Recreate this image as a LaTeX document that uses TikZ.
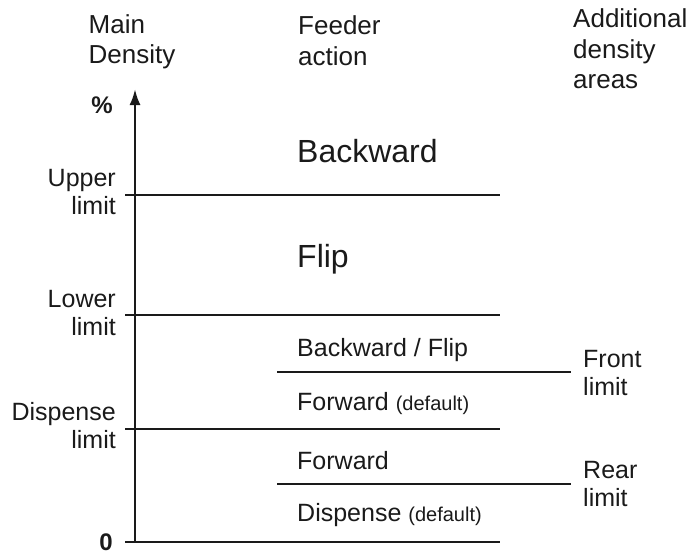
\documentclass[tikz,border=0pt]{standalone}
\usepackage{fontspec}
\setmainfont{Liberation Sans}
\usetikzlibrary{arrows.meta}
\definecolor{ink}{HTML}{1A1A1A}
\newcommand\dftsize{\fontsize{20}{24}\selectfont}
\begin{document}
\begin{tikzpicture}[x=1pt,y=-1pt,
  hdr/.style={inner sep=0pt,anchor=base west,align=left,text=ink,font=\fontsize{26}{30.5}\selectfont},
  lbl/.style={inner sep=0pt,anchor=base east,align=right,text=ink,font=\fontsize{25}{28}\selectfont},
  rlbl/.style={inner sep=0pt,anchor=base west,align=left,text=ink,font=\fontsize{25}{28}\selectfont},
  act/.style={inner sep=0pt,anchor=base west,text=ink,font=\fontsize{25}{28}\selectfont},
  bigact/.style={inner sep=0pt,anchor=base west,text=ink,font=\fontsize{32}{36}\selectfont},
  num/.style={inner sep=0pt,anchor=base east,text=ink,font=\fontsize{24}{28}\selectfont\bfseries},
  rule/.style={draw=ink,line width=2pt},
  axis/.style={draw=ink,line width=2.5pt,-{Latex[length=16pt,width=11pt]}}]
\useasboundingbox (0,0) rectangle (690,554);
% headers (anchored at the baseline of the last line)
\node[hdr] (hmain) at (88.5,63.5) {Main\\Density};
\node[hdr] (hfeed) at (298,65) {Feeder\\action};
\node[hdr] (hadd) at (573,88.5) {Additional\\density\\areas};
% axis
\coordinate (o) at (135,541);
\coordinate (top) at (135,89);
\draw[axis] (o) -- (top);
\node[num] (pct) at (113,113) {\%};
\node[num] (zero) at (113,550) {0};
% main limit lines
\coordinate (uA) at (125,194.5); \coordinate (uB) at (500,194.5);
\coordinate (lA) at (125,315);   \coordinate (lB) at (500,315);
\coordinate (dA) at (125,429);   \coordinate (dB) at (500,429);
\coordinate (zA) at (125,541.5); \coordinate (zB) at (500,541.5);
\draw[rule] (uA) -- (uB);
\draw[rule] (lA) -- (lB);
\draw[rule] (dA) -- (dB);
\draw[rule] (zA) -- (zB);
% additional limit lines
\coordinate (fA) at (277,372); \coordinate (fB) at (571,372);
\coordinate (rA) at (277,484); \coordinate (rB) at (571,484);
\draw[rule] (fA) -- (fB);
\draw[rule] (rA) -- (rB);
% left labels
\node[lbl] (upper) at (116,214) {Upper\\limit};
\node[lbl] (lower) at (116,335.5) {Lower\\limit};
\node[lbl] (disp) at (116,448.3) {Dispense\\limit};
% right labels
\node[rlbl] (front) at (583,395) {Front\\limit};
\node[rlbl] (rear) at (583,506.7) {Rear\\limit};
% feeder actions
\node[bigact] (back) at (297,162.5) {Backward};
\node[bigact] (flip) at (297,267) {Flip};
\node[act] (bflip) at (297,356.5) {Backward / Flip};
\node[act] (fwdd) at (297,410) {Forward {\dftsize(default)}};
\node[act] (fwd) at (297,469) {Forward};
\node[act] (dspd) at (297,521.5) {Dispense {\dftsize(default)}};
\end{tikzpicture}
\end{document}
